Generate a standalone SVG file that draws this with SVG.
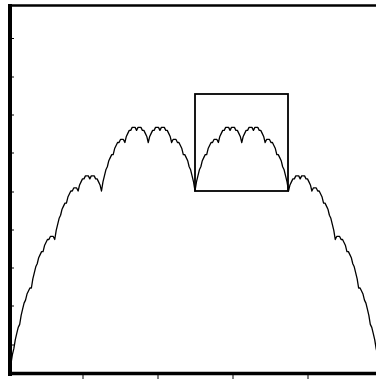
<svg xmlns="http://www.w3.org/2000/svg" width="376" height="379" viewBox="0 0 376 379">
<style>
.ax{stroke:#000;fill:none;stroke-linecap:butt}
.tick{stroke:#000;stroke-width:1;fill:none}
.curve{stroke:#000;fill:none;stroke-width:1.3;stroke-linejoin:round}
.box{stroke:#000;fill:none;stroke-width:1.8}
</style>
<defs>
<clipPath id="inside"><rect x="8" y="6" width="368" height="367"/></clipPath>
</defs>
<rect width="376" height="379" fill="#fff"/>
<g id="curve" clip-path="url(#inside)">
<polyline class="curve" vector-effect="non-scaling-stroke" transform="translate(8,385) scale(1.4609375,-1.515625)" points="0,0 1,8 2,14 3,20 4,24 5,30 6,34 7,38 8,40 9,46 10,50 11,54 12,56 13,60 14,62 15,64 16,64 17,70 18,74 19,78 20,80 21,84 22,86 23,88 24,88 25,92 26,94 27,96 28,96 29,98 30,98 31,98 32,96 33,102 34,106 35,110 36,112 37,116 38,118 39,120 40,120 41,124 42,126 43,128 44,128 45,130 46,130 47,130 48,128 49,132 50,134 51,136 52,136 53,138 54,138 55,138 56,136 57,138 58,138 59,138 60,136 61,136 62,134 63,132 64,128 65,134 66,138 67,142 68,144 69,148 70,150 71,152 72,152 73,156 74,158 75,160 76,160 77,162 78,162 79,162 80,160 81,164 82,166 83,168 84,168 85,170 86,170 87,170 88,168 89,170 90,170 91,170 92,168 93,168 94,166 95,164 96,160 97,164 98,166 99,168 100,168 101,170 102,170 103,170 104,168 105,170 106,170 107,170 108,168 109,168 110,166 111,164 112,160 113,162 114,162 115,162 116,160 117,160 118,158 119,156 120,152 121,152 122,150 123,148 124,144 125,142 126,138 127,134 128,128 129,134 130,138 131,142 132,144 133,148 134,150 135,152 136,152 137,156 138,158 139,160 140,160 141,162 142,162 143,162 144,160 145,164 146,166 147,168 148,168 149,170 150,170 151,170 152,168 153,170 154,170 155,170 156,168 157,168 158,166 159,164 160,160 161,164 162,166 163,168 164,168 165,170 166,170 167,170 168,168 169,170 170,170 171,170 172,168 173,168 174,166 175,164 176,160 177,162 178,162 179,162 180,160 181,160 182,158 183,156 184,152 185,152 186,150 187,148 188,144 189,142 190,138 191,134 192,128 193,132 194,134 195,136 196,136 197,138 198,138 199,138 200,136 201,138 202,138 203,138 204,136 205,136 206,134 207,132 208,128 209,130 210,130 211,130 212,128 213,128 214,126 215,124 216,120 217,120 218,118 219,116 220,112 221,110 222,106 223,102 224,96 225,98 226,98 227,98 228,96 229,96 230,94 231,92 232,88 233,88 234,86 235,84 236,80 237,78 238,74 239,70 240,64 241,64 242,62 243,60 244,56 245,54 246,50 247,46 248,40 249,38 250,34 251,30 252,24 253,20 254,14 255,8 256,0"/>
</g>
<g id="zoom-box">
<rect class="box" x="195" y="94" width="93" height="97"/>
</g>
<g id="frame">
<line class="ax" x1="10" y1="4" x2="10" y2="376" stroke-width="4"/>
<line class="ax" x1="8" y1="5.5" x2="376" y2="5.5" stroke-width="2.5"/>
<line class="ax" x1="10" y1="373.5" x2="376" y2="373.5" stroke-width="3.5"/>
<g class="tick">
<line x1="12" y1="38.5" x2="14" y2="38.5"/>
<line x1="12" y1="77" x2="14" y2="77"/>
<line x1="12" y1="115" x2="14" y2="115"/>
<line x1="12" y1="153" x2="14" y2="153"/>
<line x1="12" y1="192" x2="14" y2="192"/>
<line x1="12" y1="230" x2="14" y2="230"/>
<line x1="12" y1="268" x2="14" y2="268"/>
<line x1="12" y1="306" x2="14" y2="306"/>
<line x1="12" y1="345" x2="14" y2="345"/>
<line x1="83" y1="375" x2="83" y2="379"/>
<line x1="158" y1="375" x2="158" y2="379"/>
<line x1="233" y1="375" x2="233" y2="379"/>
<line x1="308" y1="375" x2="308" y2="379"/>
</g>
</g>
</svg>
